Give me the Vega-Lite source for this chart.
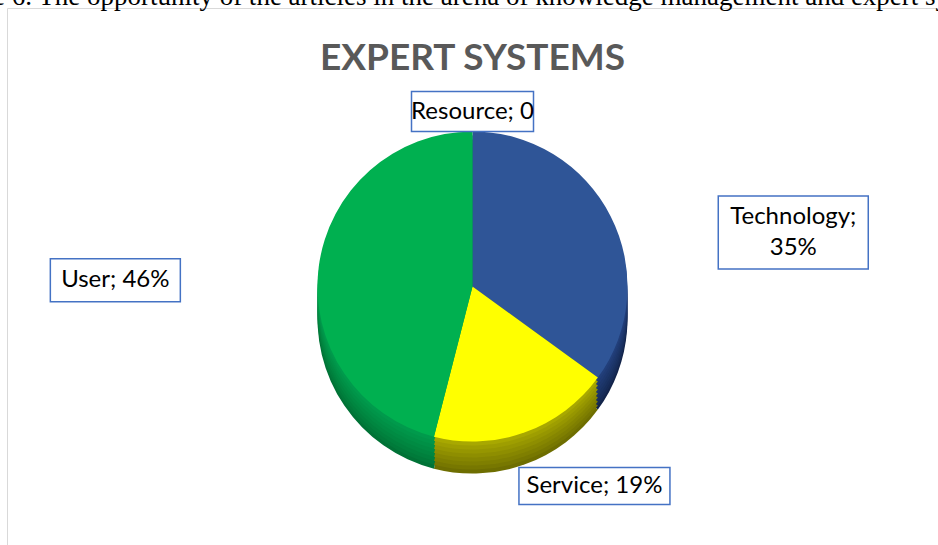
{
  "$schema": "https://vega.github.io/schema/vega-lite/v6.json",
  "width": 931,
  "height": 537,
  "padding": {"left": 7, "top": 8, "right": 0, "bottom": 0},
  "autosize": {"type": "none"},
  "background": "white",
  "config": {"view": {"stroke": "#d9d9d9", "strokeWidth": 1}},
  "title": {
    "text": "Figure 6. The opportunity of the articles in the arena of knowledge management and expert systems",
    "subtitle": "EXPERT SYSTEMS",
    "anchor": "middle",
    "frame": "group",
    "font": "Liberation Serif",
    "fontSize": 27,
    "fontWeight": "normal",
    "color": "#000000",
    "subtitleFont": "Lato",
    "subtitleFontSize": 37,
    "subtitleFontWeight": "bold",
    "subtitleColor": "#595959",
    "subtitlePadding": 30,
    "offset": -70
  },
  "data": {
    "values": [
      {"cat": "Resource", "value": 0, "ord": 1, "label": "Resource; 0"},
      {"cat": "Technology", "value": 35, "ord": 2, "label": "Technology;\n35%"},
      {"cat": "Service", "value": 19, "ord": 3, "label": "Service; 19%"},
      {"cat": "User", "value": 46, "ord": 4, "label": "User; 46%"}
    ]
  },
  "transform": [
    {"window": [{"op": "sum", "field": "value", "as": "cum"}], "sort": [{"field": "ord"}], "frame": [null, 0]},
    {"calculate": "2*PI*(datum.cum - datum.value/2)/100", "as": "mid"},
    {"calculate": "360*sin(datum.mid)", "as": "lx"},
    {"calculate": "193*cos(datum.mid) - 28", "as": "ly"}
  ],
  "resolve": {"scale": {"color": "independent"}},
  "layer": [
    {"mark": {"type": "arc", "outerRadius": 155, "yOffset": 42},
     "encoding": {"theta": {"field": "value", "type": "quantitative", "stack": true, "scale": {"domain": [0, 100]}}, "order": {"field": "ord", "type": "quantitative"},
       "color": {"field": "cat", "type": "nominal", "legend": null, "scale": {"domain": ["Resource", "Technology", "Service", "User"], "range": ["#7f7f7f", "#13244a", "#6e6e00", "#007236"]}}}},
    {"mark": {"type": "arc", "outerRadius": 155, "yOffset": 38},
     "encoding": {"theta": {"field": "value", "type": "quantitative", "stack": true, "scale": {"domain": [0, 100]}}, "order": {"field": "ord", "type": "quantitative"},
       "color": {"field": "cat", "type": "nominal", "legend": null, "scale": {"domain": ["Resource", "Technology", "Service", "User"], "range": ["#7f7f7f", "#162a55", "#777700", "#007a3a"]}}}},
    {"mark": {"type": "arc", "outerRadius": 155, "yOffset": 34},
     "encoding": {"theta": {"field": "value", "type": "quantitative", "stack": true, "scale": {"domain": [0, 100]}}, "order": {"field": "ord", "type": "quantitative"},
       "color": {"field": "cat", "type": "nominal", "legend": null, "scale": {"domain": ["Resource", "Technology", "Service", "User"], "range": ["#7f7f7f", "#182e5c", "#7f7f00", "#00803d"]}}}},
    {"mark": {"type": "arc", "outerRadius": 155, "yOffset": 30},
     "encoding": {"theta": {"field": "value", "type": "quantitative", "stack": true, "scale": {"domain": [0, 100]}}, "order": {"field": "ord", "type": "quantitative"},
       "color": {"field": "cat", "type": "nominal", "legend": null, "scale": {"domain": ["Resource", "Technology", "Service", "User"], "range": ["#7f7f7f", "#1a3262", "#868600", "#008640"]}}}},
    {"mark": {"type": "arc", "outerRadius": 155, "yOffset": 26},
     "encoding": {"theta": {"field": "value", "type": "quantitative", "stack": true, "scale": {"domain": [0, 100]}}, "order": {"field": "ord", "type": "quantitative"},
       "color": {"field": "cat", "type": "nominal", "legend": null, "scale": {"domain": ["Resource", "Technology", "Service", "User"], "range": ["#7f7f7f", "#1c3568", "#8e8e00", "#008b43"]}}}},
    {"mark": {"type": "arc", "outerRadius": 155, "yOffset": 22},
     "encoding": {"theta": {"field": "value", "type": "quantitative", "stack": true, "scale": {"domain": [0, 100]}}, "order": {"field": "ord", "type": "quantitative"},
       "color": {"field": "cat", "type": "nominal", "legend": null, "scale": {"domain": ["Resource", "Technology", "Service", "User"], "range": ["#7f7f7f", "#1e386e", "#969600", "#009046"]}}}},
    {"mark": {"type": "arc", "outerRadius": 155, "yOffset": 18},
     "encoding": {"theta": {"field": "value", "type": "quantitative", "stack": true, "scale": {"domain": [0, 100]}}, "order": {"field": "ord", "type": "quantitative"},
       "color": {"field": "cat", "type": "nominal", "legend": null, "scale": {"domain": ["Resource", "Technology", "Service", "User"], "range": ["#7f7f7f", "#203b74", "#9e9e00", "#009549"]}}}},
    {"mark": {"type": "arc", "outerRadius": 155, "yOffset": 14},
     "encoding": {"theta": {"field": "value", "type": "quantitative", "stack": true, "scale": {"domain": [0, 100]}}, "order": {"field": "ord", "type": "quantitative"},
       "color": {"field": "cat", "type": "nominal", "legend": null, "scale": {"domain": ["Resource", "Technology", "Service", "User"], "range": ["#7f7f7f", "#223f7a", "#a8a800", "#009a4c"]}}}},
    {"mark": {"type": "arc", "outerRadius": 155, "yOffset": 10},
     "encoding": {"theta": {"field": "value", "type": "quantitative", "stack": true, "scale": {"domain": [0, 100]}}, "order": {"field": "ord", "type": "quantitative"},
       "color": {"field": "cat", "type": "nominal", "legend": null, "scale": {"domain": ["Resource", "Technology", "Service", "User"], "range": ["#a5a5a5", "#2f5597", "#ffff00", "#00b050"]}}}},
    {"mark": {"type": "point", "size": 10000, "filled": true, "fill": "white", "stroke": "#4472c4", "strokeWidth": 1.5, "opacity": 1, "fillOpacity": 1},
     "encoding": {
       "x": {"field": "lx", "type": "quantitative", "axis": null, "scale": {"domain": [-465.5, 465.5], "nice": false, "zero": false}},
       "y": {"field": "ly", "type": "quantitative", "axis": null, "scale": {"domain": [-268.5, 268.5], "nice": false, "zero": false}},
       "shape": {"field": "cat", "type": "nominal", "legend": null, "scale": {"domain": ["Resource", "Technology", "Service", "User"], "range": ["M-1.22,-0.4H1.22V0.4H-1.22Z", "M-1.5,-0.42H1.5V1.04H-1.5Z", "M-1.51,-0.37H1.51V0.37H-1.51Z", "M-1.3,-0.43H1.3V0.43H-1.3Z"]}}
     }},
    {"mark": {"type": "text", "font": "Lato", "fontSize": 24, "color": "#000000", "align": "center", "baseline": "middle", "lineBreak": "\n", "lineHeight": 31},
     "encoding": {
       "x": {"field": "lx", "type": "quantitative", "axis": null, "scale": {"domain": [-465.5, 465.5], "nice": false, "zero": false}},
       "y": {"field": "ly", "type": "quantitative", "axis": null, "scale": {"domain": [-268.5, 268.5], "nice": false, "zero": false}},
       "text": {"field": "label"}
     }}
  ]
}
